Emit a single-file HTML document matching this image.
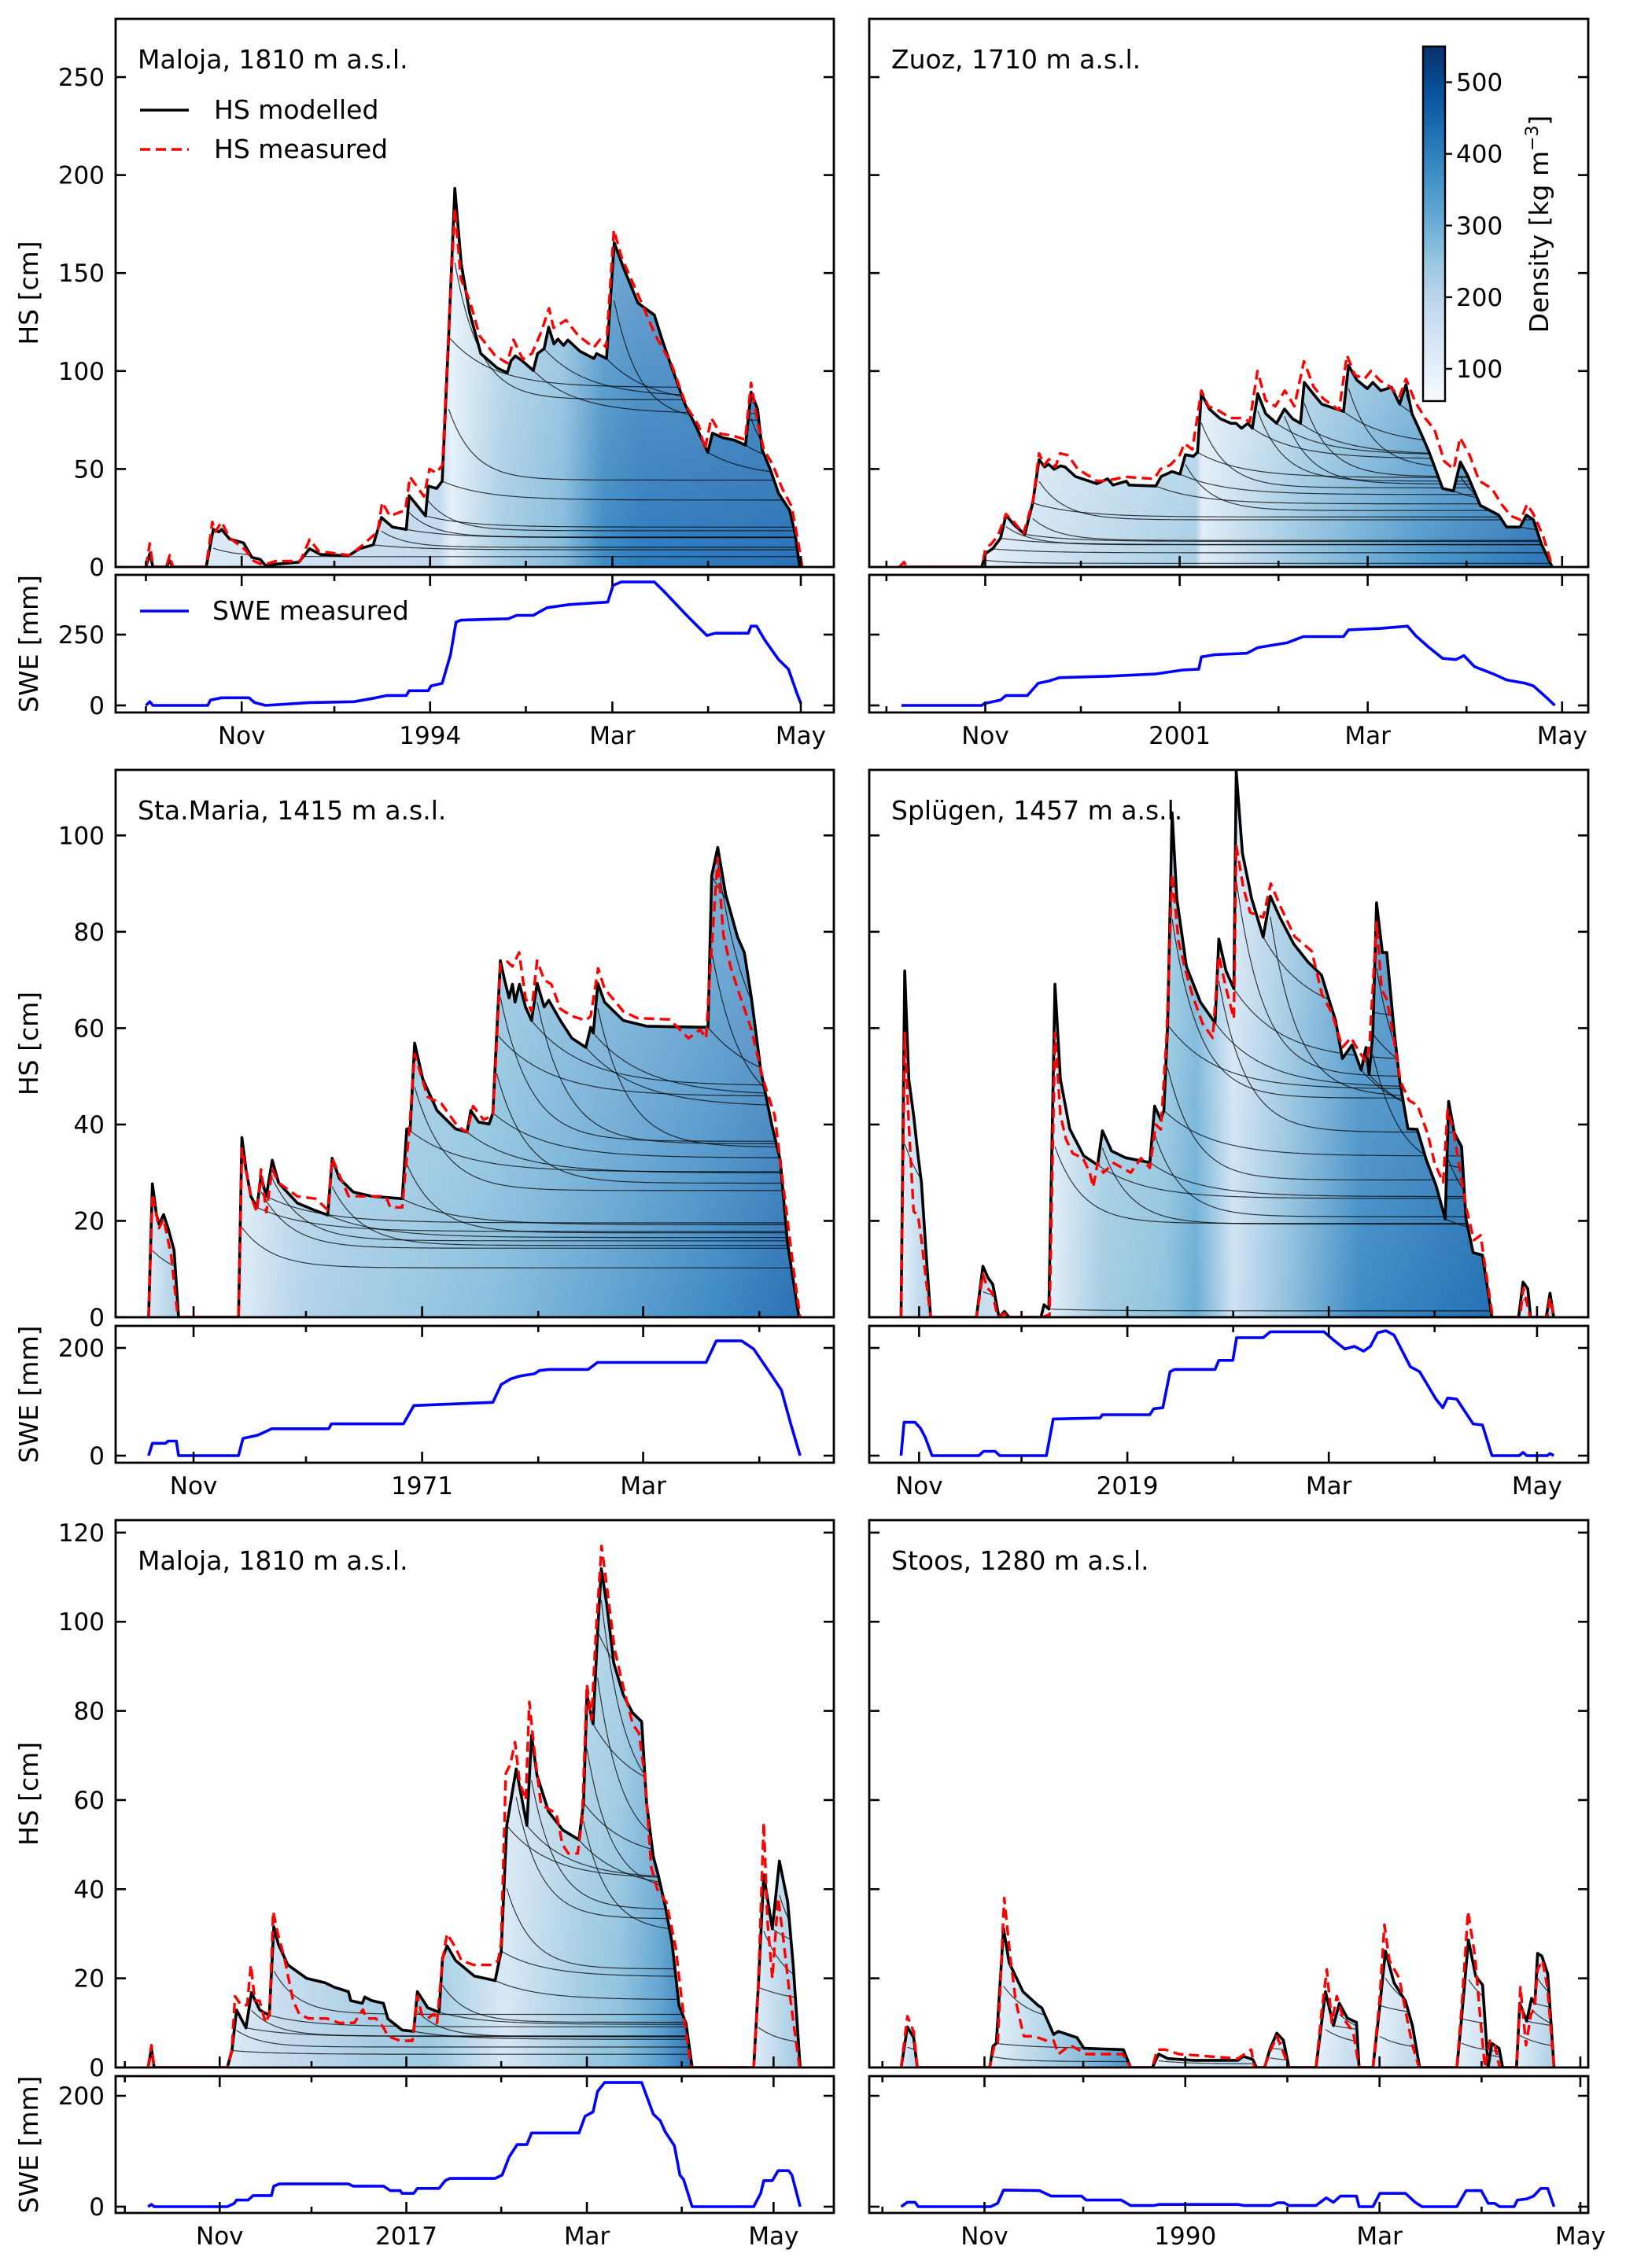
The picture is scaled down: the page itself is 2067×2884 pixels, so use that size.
<!DOCTYPE html>
<html><head><meta charset="utf-8">
<style>
html,body{margin:0;padding:0;background:#fff;}
svg{display:block;font-family:"DejaVu Sans","Liberation Sans",sans-serif;}
</style></head>
<body>
<svg id="fig" xmlns="http://www.w3.org/2000/svg" width="2067" height="2884" viewBox="0 0 2067 2884">
<defs id="defs"></defs>
</svg>
<script>
// ---------------- DATA (day 0 = 1 Oct; HS in cm; SWE in mm) ----------------
const monthTickDays = [0,31,61,92,123,151,182,212,243];
const monthTickMajor = [false,true,false,true,false,true,false,true,false];

const p1Labels = ["Nov","1994","Mar","May"];
const p1HsModelled = [[0,0],[1.25,6.9],[2.3,0],[6.6,0],[7.7,3.2],[8.75,0],[19.5,0],[21.8,19.2],[23.6,17.9],[24.5,19.2],[27.1,14.3],[31.6,12.3],[34.3,4.9],[37,3.9],[38.75,0.7],[42.3,1.5],[49.5,2.5],[53,9.3],[56.6,6.4],[65.5,5.7],[69.1,9.3],[73.6,11.3],[76.25,25.3],[79.8,20.4],[84.3,19.2],[85.2,36.4],[90.5,26.1],[91.4,41.3],[94.1,40.1],[95.9,43.8],[98,117.5],[100,193.2],[102.1,154.4],[104.8,129.8],[108.4,108.9],[113.75,101.5],[117,99.1],[118.2,105.2],[119.6,107.7],[121.8,105.2],[125.4,100.3],[126.8,108.9],[128.9,111.4],[130.4,122.4],[132.1,113.8],[133.4,116.3],[135.2,113.1],[136.6,115.8],[140.5,110.1],[145,106.4],[145.9,108.9],[149.1,106.4],[151.6,165.4],[154.8,151.9],[159.3,134.7],[164.6,128.6],[167.3,115],[170,102.8],[174.5,83.1],[178,72],[181.9,58.5],[183.4,68.3],[186.9,65.9],[190.5,64.7],[194.1,62.2],[195.9,89.2],[198,80.6],[199.5,59.7],[202.1,49.9],[204.8,37.6],[208.4,29],[210.2,16.7],[211.6,0.7],[212.3,0]];
const p1HsMeasured = [[0,0],[1.25,12],[2.3,0],[6.6,0],[7.7,6],[8.75,0],[19.5,0],[21.5,23],[22.5,18],[24.5,23],[27,15],[32,9],[35,3],[38,1],[42,3],[50,3],[53,14],[56,8],[66,6],[70,11],[75,18],[76.5,33],[79,26],[84,29],[85.5,46],[90,36],[91.8,50],[94,48],[96,52],[98,120],[100,183],[102,147],[105,135],[108,118],[113,108],[117,104],[119,116],[122,106],[125,109],[128,120],[130.5,132],[132,122],[134,124],[136,126],[140,118],[145,112],[147,116],[149,112],[151.5,172],[154,158],[159,140],[165,118],[170,104],[175,82],[179,72],[181,60],[183,76],[186,68],[190,67],[194,65],[195.9,94],[198,74],[200,60],[203,52],[206,40],[209,31],[211,14],[212.5,0]];
const p1Swe = [[0,0],[1.25,13],[2.3,0],[20,0],[20.9,19],[24.5,27],[33.4,27],[35.2,10],[38.75,0],[53,10],[67.3,13],[74.5,27],[78,35],[84.3,35],[85.2,52],[91.4,52],[92.3,69],[95.9,78],[98.6,179],[100.4,294],[102,301],[117.3,306],[120,318],[125.4,318],[129.8,345],[137,356],[149.5,365],[151.25,424],[153.9,436],[164.6,436],[167.3,407],[175.4,314],[181.6,247],[184.3,255],[195,255],[195.9,280],[197.7,280],[200.4,230],[204.8,162],[208,128],[210.7,44],[212,7]];

const p2Labels = ["Nov","2001","Mar","May"];
const p2HsModelled = [[4.7,0],[29.9,0],[31.1,6.9],[33.3,9.3],[35.8,14.7],[37.5,26.5],[40,21.6],[43.4,16.7],[45.9,32.7],[47.9,54.8],[49.6,51.1],[50.9,52.4],[52.6,49.9],[54.6,51.6],[56,51.1],[59.3,46.2],[66,42.5],[69.4,45],[71.1,41.8],[75.3,43.8],[76.1,41.8],[84.5,41.3],[86.2,46.2],[89.6,48.7],[92.1,47.4],[93.8,57.3],[96.3,56.5],[97.6,58.5],[98.8,88.5],[101.3,80.6],[104.7,75.7],[108.1,73.3],[109.7,73.3],[111.4,70.8],[113.4,73.3],[114.8,70.8],[116.5,88.5],[119,78.2],[122.4,73.3],[124.9,80.6],[127.4,75.7],[129.9,73.3],[131.1,94.2],[134.1,88],[136.6,83.1],[143.4,79.4],[145,102.8],[147.6,95.4],[150.9,91],[152.6,94.2],[155.1,90],[158.5,91.7],[161,83.1],[163,93],[164.9,78.2],[167.7,68.3],[170.3,58.5],[174.5,40.1],[177.9,38.8],[180.1,53.6],[182.5,46.2],[186.3,31.5],[192.1,26.5],[194.6,20.4],[198.8,20.4],[200.8,26.5],[203,24.1],[205.5,11.8],[208.9,0]];
const p2HsMeasured = [[4,0],[5.5,2.5],[6.5,0],[30,0],[31,9],[33,12],[35,16],[37.5,27],[40,23],[43,17],[46,34],[47.9,58],[49.5,52],[51,55],[53,51],[54.5,58],[57,57],[60,50],[66,44],[69,44],[75,46],[84,45],[86,50],[89,52],[92,57],[93.5,63],[96,60],[98.8,90],[101,82],[104,80],[108,76],[112,76],[114,74],[116.4,100],[119,85],[122,82],[125,90],[128,82],[131,105],[134,92],[137,86],[142,80],[144.5,108],[147,98],[150,96],[152,100],[155,95],[158,92],[161,87],[163,96],[166,84],[169,76],[172,70],[175,54],[178,50],[180,66],[183,57],[186,44],[190,40],[193,32],[196,26],[199,24],[201,32],[203,27],[206,16],[209,0]];
const p2Swe = [[4.7,0],[29.9,0],[30.8,7],[35.8,19],[37.5,35],[44.2,35],[47.6,78],[50.9,86],[54.3,98],[69.4,103],[84.5,111],[92.9,125],[98,128],[98.8,171],[103,179],[113.1,184],[116.5,204],[125.7,221],[130.8,243],[143.4,243],[145,267],[155.1,272],[160.2,277],[163.5,280],[166,247],[170.3,204],[174.5,166],[178.7,162],[181.2,176],[184.5,137],[190.4,111],[194.6,90],[200.5,78],[203,69],[207.2,27],[209.7,0]];

const p3Labels = ["Nov","1971","Mar"];
const p3HsModelled = [[19,0],[20,27.7],[21.1,21.3],[21.8,19.3],[23,21.3],[24.2,18.5],[25.8,13.9],[27,0],[43,0],[43.9,37.3],[45,30.7],[46.3,25.1],[47.9,22.8],[49,29.3],[50.4,25.1],[52,32.6],[53.7,27.9],[58.7,23.7],[63,22.3],[66.8,21.2],[68,33],[69.9,28.8],[73.6,26],[78.6,25.1],[86.7,24.6],[87.9,39.1],[88.8,38.7],[90,56.9],[92.2,49.4],[96,42.9],[100.9,39.1],[104,38.4],[105,42.9],[107.1,40.5],[109.9,40.1],[110.9,42.4],[111.9,58.8],[112.9,74],[114,70],[115.2,66.3],[116.1,69.1],[116.8,65.4],[118,69.1],[119.6,64.4],[121.2,61.6],[122.7,69.3],[124.6,64.4],[125.8,65.8],[128.9,61.6],[132,57.9],[135.7,56],[137,60.2],[137.7,59],[138.9,69.3],[140.7,65.4],[145.7,61.6],[151.9,60.4],[166.8,60.2],[168.3,60.2],[169.3,91.6],[170.9,97.5],[173,87.8],[176.2,78.9],[178,75.7],[179.9,66.3],[182.4,51.3],[185.3,40.1],[187.6,32.6],[189.5,15.7],[191.7,4.5],[192.6,0]];
const p3HsMeasured = [[19,0],[20,25.6],[21.8,18.5],[23,20.4],[25,12.9],[26.8,0],[43,0],[43.9,35],[46.3,25.1],[47.9,21.8],[49,30.7],[50.4,21.8],[52,30.7],[53.7,27.9],[58.7,25.1],[63.6,24.6],[66.8,22.3],[68,33],[72.4,25.1],[82.3,25.1],[83.5,22.8],[86.7,22.8],[88.6,39.1],[90,54.6],[93.5,45.7],[97.2,44.3],[101.5,39.6],[104,38.4],[105.6,43.8],[108.4,41],[110.9,41.9],[111.9,56.9],[112.9,73.3],[114.7,73.8],[116.1,72.8],[117.9,75.7],[119.6,66.3],[121.2,63.5],[122.7,74],[124.6,70],[126.5,69.1],[128.9,64],[132,62.5],[135.7,61.6],[137,62.5],[139,72.4],[140.7,68.2],[145.7,63.5],[149.4,62.1],[158.1,61.8],[163.1,57.9],[166.2,59.7],[167.8,57.9],[168.7,70],[170.9,95.3],[172.4,79.4],[174.3,72.8],[176.2,68.2],[179.9,59.7],[183,49.4],[186.1,41.9],[188.6,26],[191.1,10.1],[192.9,0]];
const p3Swe = [[19,0],[20,23],[23.5,23],[24.2,27],[26.4,27],[27,0],[43,0],[44.2,32],[48.1,38],[49.4,42],[51.9,50],[67.1,50],[67.8,59],[87,59],[89.8,93],[104,97],[110.9,99],[113.1,132],[115.8,143],[118.3,148],[122,152],[123.3,158],[125.8,160],[136.3,160],[138.8,173],[167.8,173],[170.5,213],[177.3,213],[180.5,198],[185.4,148],[187.9,122],[190.4,59],[192.9,0]];

const p4Labels = ["Nov","2019","Mar","May"];
const p4HsModelled = [[25.7,0],[26.8,71.9],[28,49.4],[29.4,41.9],[30.7,33.5],[31.7,27.9],[33,13.9],[34.4,0],[47.8,0],[49.7,10.6],[51.2,8.2],[52.6,6.8],[54.4,0],[56,1.2],[57.4,0],[66.7,0],[67.6,2.6],[69,1.7],[70.8,69.1],[72.4,49.4],[75.1,39.1],[79.2,33.5],[83.3,31.6],[84.7,38.7],[87.4,34.5],[91.5,33.1],[98.6,32.1],[100,43.8],[101.8,41],[102.7,42.9],[103.8,60.7],[105.1,104.7],[106.5,86.9],[109.3,72.8],[113.4,65.4],[117.7,61.1],[118.8,78.5],[120.9,71.9],[123.2,68.2],[123.9,113.3],[125.7,96.3],[128.4,86.9],[131.8,78.9],[133.9,87.4],[136.6,83.1],[140.7,77.5],[144.8,73.8],[148.9,71],[150.9,66.3],[153,61.6],[155,53.7],[157.8,56.5],[160.5,51.3],[161.9,56],[162.8,50.4],[163.9,58.8],[165,86],[166.7,75.7],[168,75.7],[170.1,59.7],[171.8,49],[174.2,39.1],[176.9,39],[179.6,32.6],[182.4,27.4],[185.1,20.4],[186.1,44.8],[187.8,38.2],[189.9,35.4],[191.2,20.4],[193.3,13.4],[196,12.9],[198.8,0],[206.6,0],[207.9,7.3],[209.3,5.9],[210.1,0],[214.7,0],[215.8,5],[216.9,0]];
const p4HsMeasured = [[25.7,0],[26.8,59],[28,40],[29.4,22],[30.7,21],[31.7,16],[33,8],[34.4,0],[47.8,0],[49.7,9],[51,6],[52.5,5],[54,0],[56,0.8],[57,0],[66.7,0],[69.2,0.5],[70.8,59],[72.4,42],[74,37],[76,34],[79,33],[81,30],[82,27],[83.3,32],[85,30],[88,32],[90.5,31],[93,30],[96,33],[98.6,31],[100.3,40],[101.8,39],[103.5,58],[105.1,92],[107,78],[109,72],[111,67],[114,61],[117,58],[118.8,75],[121,68],[123.2,62],[123.9,98],[126,89],[128,84],[131.8,83],[134,90],[137,85],[141,79],[146,76],[149,67],[152,63],[155,56],[157.5,58],[160,55],[162,53],[163,57],[165,82],[166.5,68],[168,66],[170,58],[172,49],[174.5,45],[177,44],[180,38],[182,32],[184.5,28],[185.8,43],[187.5,39],[189.5,30],[191.5,22],[193.5,16],[195.5,17],[196.5,12],[199,0],[207,0],[208,6],[209,3],[210,0],[215,0],[215.8,4],[217,0]];
const p4Swe = [[25.7,0],[26.6,62],[29.8,62],[31.4,51],[32.8,34],[34.8,0],[48.5,0],[49.9,8],[53.3,8],[54.6,0],[68.3,0],[70.3,68],[84,70],[84.7,76],[98.6,76],[99.7,87],[102.4,89],[104.5,156],[105.9,160],[117.7,160],[118.8,177],[122.9,177],[124,219],[131.8,219],[133.9,230],[149.6,230],[152.3,215],[155.7,198],[158.5,203],[161.2,194],[163.2,203],[165.3,228],[167.7,232],[170.1,224],[174.9,165],[177.6,156],[182.4,105],[184.4,89],[185.8,107],[188.5,105],[193.3,59],[196,57],[198.8,0],[206.8,0],[207.9,6],[209,0],[215,0],[215.8,4],[216.9,0]];

const p5Labels = ["Nov","2017","Mar","May"];
const p5HsModelled = [[7.6,0],[8.7,4.3],[9.6,0],[33.5,0],[35,3.8],[36.5,12.9],[39.6,8.9],[41.4,16.8],[44.1,12.9],[47.2,11.7],[48.7,31.6],[50.2,27.6],[53.3,23],[59.4,20],[65.4,19],[68.5,18],[73.1,17],[73.8,15],[77.6,14.4],[78.4,15.8],[80.7,15],[84.5,14.4],[86,10.9],[90.6,8.4],[94.4,8.1],[95.6,17],[99,13.4],[102.7,12.4],[103.8,24.5],[105.3,27.3],[108.1,24],[114.2,20.5],[121,19.5],[123,26.1],[124.8,54.3],[127.9,67],[131.4,54.3],[132.9,74.5],[134.7,65.5],[138.5,57.4],[143.1,53.3],[148.4,51.1],[149.9,59.4],[151,83.6],[153,77.1],[154.5,97.8],[155.7,111.9],[157.5,103.8],[159.8,90.7],[162.9,83.6],[165.9,79.6],[168.9,77.6],[170.5,59.4],[172.7,47.3],[174.3,43.2],[176.6,36.2],[178.8,28.1],[181.1,13.9],[183.4,9.9],[185.4,0],[205.5,0],[207,18],[208.8,43.2],[211.6,31.1],[213.9,46.3],[216.6,37.2],[218.4,23],[220.7,0]];
const p5HsMeasured = [[7.6,0],[8.7,5],[9.6,0],[33.5,0],[35,4],[36,16],[38,14],[40,14],[41.2,23],[42.5,15],[44,15],[46,10],[47.3,12],[48.5,35],[50,30],[52,25],[55,15],[57,12],[60,11],[66,11],[70,10],[75,10],[77.8,13],[79,11],[82,11],[84.5,9],[86,7],[90,6],[94,6],[95.6,16],[97,12],[99,11],[101,12],[102,10],[103.8,24],[105.3,30],[108,27],[110,24],[114,23],[120,23],[122,24],[123,28],[124.5,66],[126,68],[127.5,73],[129,64],[131,60],[132.2,82],[134,70],[136,59],[138.5,58],[141,57],[143,50],[145,48],[148,48],[149.5,56],[151,86],[152.5,78],[154,98],[155.8,117],[157.5,108],[160,94],[163,85],[166,77],[168,75],[170,65],[172,45],[174,40],[177,37],[180,27],[182,15],[185,0],[205.5,0],[207,18],[208.8,55],[210,33],[211.6,20],[213.5,38],[215,30],[217,18],[218.5,10],[220.5,0]];
const p5Swe = [[7.6,0],[8.7,4],[9.6,0],[33.5,0],[35.8,6],[36.5,12],[40.3,12],[41.9,20],[47.9,20],[48.7,37],[50.5,41],[73.1,41],[74.6,37],[84.5,37],[86.8,29],[90,29],[90.6,24],[94.4,24],[95.6,33],[102.7,33],[104.7,47],[106.2,51],[121,51],[123.3,57],[125.6,90],[128.2,112],[131.4,112],[132.9,133],[148.4,133],[150.4,163],[153,171],[154.5,208],[156.8,224],[168.9,224],[170.5,200],[172.7,167],[175,155],[176.6,135],[179.6,110],[181.4,57],[182.6,49],[185.4,0],[205.5,0],[207.8,24],[208.8,47],[211.6,47],[213.5,65],[216.9,65],[218,57],[220.7,0]];

const p6Labels = ["Nov","1990","Mar","May"];
const p6HsModelled = [[5.7,0],[7.6,9.1],[9.5,6.7],[10.6,0],[32.6,0],[33.6,4.8],[34.6,5.4],[36.8,31.1],[38.5,23.5],[42.7,17],[47.3,13.9],[48.4,13.4],[49.9,10.9],[52,7.4],[53.4,8.1],[59.1,6.7],[61.2,4.3],[73.2,4],[75.4,0],[82,0],[83.9,3],[86.7,2],[94.5,1.6],[108,1.6],[109.6,2.5],[112.5,1.8],[113.6,0],[116.1,0],[117.8,4.3],[119.8,7.7],[121.8,6.1],[123.5,0],[131.7,0],[134.6,17],[137,9.4],[138.8,14.4],[141.2,11.1],[144,10.1],[144.8,0],[149,0],[151.1,13.9],[152.8,26.1],[155.4,19],[158.9,14.9],[161,9.4],[163.2,0],[174.5,0],[175.9,10.9],[178,28.6],[180.2,20.5],[182.3,18.5],[184,0],[185.1,5.4],[187.3,4.3],[188.4,0],[192.6,0],[193.6,14.4],[195.7,10.4],[197.2,15.5],[198.2,14.4],[199,25.6],[200.3,25],[202.1,21],[204,0]];
const p6HsMeasured = [[5.7,0],[7.6,11.5],[9.5,8],[10.6,0],[32.6,0],[34,5],[35,5],[37,38],[38.8,25],[40.5,15],[42,10],[43,7],[46,7],[50,6],[52,6],[53.5,3],[57,5],[62,3],[73,3],[75.4,0],[82,0],[83.5,4],[86,4],[90,3],[108,2],[110,3],[112,4],[113,0],[116,0],[118,4],[119.8,7],[122,3],[123.5,0],[131.7,0],[133.5,13],[135,22],[136.5,10],[138,16],[140,11],[143,8],[144.8,0],[149,0],[151,15],[152.5,32],[154,24],[157,20],[159.6,10],[161,5],[163,0],[174.5,0],[176,14],[177.9,35],[180,25],[181.5,12],[183,0],[184.5,6],[186,5],[187.5,0],[192.6,0],[193.8,18],[195.5,5],[197,12],[198,13],[199,22],[200.5,24],[202,18],[204,0]];
const p6Swe = [[5.7,0],[7.6,8],[9.9,8],[10.9,0],[32.9,0],[35,6],[36.8,30],[47.7,29],[51.3,19],[60.5,19],[61.9,12],[72.5,12],[75.4,2],[82.4,2],[83.9,4],[108,4],[110,2],[118,2],[120,7],[122,7],[123.5,2],[131.7,2],[134.8,16],[137,8],[139.1,19],[144,19],[144.8,0],[149,0],[151.1,24],[158.9,24],[161.8,8],[163.9,0],[174.5,0],[177.3,29],[181.9,29],[184,6],[186,6],[187.5,0],[191.9,0],[192.9,12],[195.7,14],[197.8,19],[200,33],[202.1,33],[204,0]];

const colorbarTicks = [100,200,300,400,500];

// ---------------- LAYOUT ----------------
const NS = 'http://www.w3.org/2000/svg';
const svg = document.getElementById('fig');
const defs = document.getElementById('defs');
const FONT = 31;
const TFONT = 33;

function mk(tag, attrs, parent) {
  const e = document.createElementNS(NS, tag);
  for (const k in attrs) e.setAttribute(k, attrs[k]);
  (parent || svg).appendChild(e);
  return e;
}

const colL = [147, 1060], colR = [1105, 2019];
const rows = [
  {hs:[24,721], swe:[731,906], hsDom:[0,279.7], sweDom:[-25,461], hsTicks:[0,50,100,150,200,250], sweTicks:[0,250]},
  {hs:[979,1675], swe:[1686,1860], hsDom:[0,113.6], sweDom:[-13.1,240.9], hsTicks:[0,20,40,60,80,100], sweTicks:[0,200]},
  {hs:[1933,2629], swe:[2640,2814], hsDom:[0,122.8], sweDom:[-11.3,235.5], hsTicks:[0,20,40,60,80,100,120], sweTicks:[0,200]}
];

const panels = [
  {id:'p1', col:colL, row:0, xDom:[-9.8,222.7], title:'Maloja, 1810 m a.s.l.', labels:p1Labels, mod:p1HsModelled, meas:p1HsMeasured, swe:p1Swe, left:true,
   stops:[[0,'#e4eff9'],[95,'#c2d9ee'],[99,'#e4eff9'],[115,'#a9cfe5'],[135,'#86bbdc'],[148,'#3d8bc4'],[160,'#2f7cbd'],[212,'#2a72b5']]},
  {id:'p2', col:colR, row:0, xDom:[-5.4,220.2], title:'Zuoz, 1710 m a.s.l.', labels:p2Labels, mod:p2HsModelled, meas:p2HsMeasured, swe:p2Swe, left:false,
   stops:[[30,'#e6f0fa'],[45,'#d4e5f3'],[97,'#a8cee5'],[99,'#e0ecf7'],[130,'#9ac7e1'],[170,'#4b96ca'],[209,'#2b73b5']]},
  {id:'p3', col:colL, row:1, xDom:[10.2,201.9], title:'Sta.Maria, 1415 m a.s.l.', labels:p3Labels, mod:p3HsModelled, meas:p3HsMeasured, swe:p3Swe, left:true,
   stops:[[19,'#dbe9f6'],[27,'#a9cde4'],[43,'#e0ecf7'],[60,'#b3d4e9'],[110,'#8ac0de'],[170,'#3f8bc5'],[193,'#2a70b3']]},
  {id:'p4', col:colR, row:1, xDom:[16.4,227], title:'Splügen, 1457 m a.s.l.', labels:p4Labels, mod:p4HsModelled, meas:p4HsMeasured, swe:p4Swe, left:false,
   stops:[[25,'#e5eff9'],[34,'#b0d1e8'],[69,'#e5eff9'],[85,'#a4cde3'],[103,'#90c3de'],[112,'#6aaed5'],[123,'#cfe2f3'],[140,'#8dbfdd'],[160,'#3e8cc5'],[199,'#2470b3'],[206,'#e3eef8'],[217,'#a9cde4']]},
  {id:'p5', col:colL, row:2, xDom:[-3,231.7], title:'Maloja, 1810 m a.s.l.', labels:p5Labels, mod:p5HsModelled, meas:p5HsMeasured, swe:p5Swe, left:true,
   stops:[[33,'#deebf7'],[50,'#c9dcef'],[80,'#a8cde4'],[100,'#9ccae1'],[124,'#d8e7f5'],[150,'#9fcae2'],[162,'#8bc0dd'],[175,'#5aa0cf'],[185,'#2c74b5'],[205,'#e3eef8'],[221,'#9ec8e2']]},
  {id:'p6', col:colR, row:2, xDom:[-4,214.4], title:'Stoos, 1280 m a.s.l.', labels:p6Labels, mod:p6HsModelled, meas:p6HsMeasured, swe:p6Swe, left:false,
   stops:[[5,'#e5eff9'],[10,'#bad6ea'],[33,'#e5eff9'],[60,'#8cbfdd'],[75,'#4a95c8'],[82,'#e8f1fa'],[110,'#c0d8ec'],[116,'#e8f1fa'],[124,'#cde0f1'],[131,'#e8f1fa'],[145,'#bfd8ec'],[149,'#e8f1fa'],[163,'#b8d4e9'],[174,'#e8f1fa'],[188,'#bcd6eb'],[192,'#e8f1fa'],[204,'#a9cde4']]}
];

function lin(d0,d1,r0,r1){ return v => r0 + (v-d0)/(d1-d0)*(r1-r0); }
function interp(series, t){
  if (t <= series[0][0]) return series[0][1];
  for (let i=1;i<series.length;i++){
    if (t <= series[i][0]){
      const a=series[i-1], b=series[i];
      return a[1] + (b[1]-a[1])*(t-a[0])/((b[0]-a[0])||1);
    }
  }
  return series[series.length-1][1];
}
function pathOf(series, fx, fy){
  return series.map((p,i)=>(i?'L':'M')+fx(p[0]).toFixed(1)+','+fy(p[1]).toFixed(1)).join(' ');
}

// ---------------- DRAW PANELS ----------------
panels.forEach((P, pi) => {
  const R = rows[P.row];
  const x0 = P.col[0], x1 = P.col[1];
  const fx = lin(P.xDom[0], P.xDom[1], x0, x1);
  const fy = lin(R.hsDom[0], R.hsDom[1], R.hs[1], R.hs[0]);
  const fs = lin(R.sweDom[0], R.sweDom[1], R.swe[1], R.swe[0]);

  const g = mk('g', {});
  
  

  const cp = mk('clipPath', {id: P.id+'-clip'}, defs);
  mk('rect', {x:x0, y:R.hs[0], width:x1-x0, height:R.hs[1]-R.hs[0]}, cp);
  const cps = mk('clipPath', {id: P.id+'-clipswe'}, defs);
  mk('rect', {x:x0, y:R.swe[0], width:x1-x0, height:R.swe[1]-R.swe[0]}, cps);

  const first = P.mod[0][0], last = P.mod[P.mod.length-1][0];
  const grad = mk('linearGradient', {id: P.id+'-grad', gradientUnits:'userSpaceOnUse', x1:fx(first), y1:0, x2:fx(last), y2:0}, defs);
  P.stops.forEach(s => {
    const off = Math.max(0, Math.min(1, (s[0]-first)/(last-first)));
    mk('stop', {offset:off.toFixed(4), 'stop-color':s[1]}, grad);
  });
  const maxHs = Math.max(...P.mod.map(p=>p[1]));
  const vg = mk('linearGradient', {id: P.id+'-vgrad', gradientUnits:'userSpaceOnUse', x1:0, y1:fy(0), x2:0, y2:fy(maxHs)}, defs);
  mk('stop', {offset:'0', 'stop-color':'#ffffff', 'stop-opacity':'0'}, vg);
  mk('stop', {offset:'1', 'stop-color':'#ffffff', 'stop-opacity':'0.35'}, vg);

  const areaD = pathOf(P.mod, fx, fy) + ' L' + fx(last).toFixed(1) + ',' + fy(0).toFixed(1) + ' L' + fx(first).toFixed(1) + ',' + fy(0).toFixed(1) + ' Z';
  const hsG = mk('g', {'clip-path':'url(#'+P.id+'-clip)'}, g);
  const area = mk('path', {d:areaD, fill:'url(#'+P.id+'-grad)', stroke:'none'}, hsG);
  
  
  const areaOv = mk('path', {d:areaD, fill:'url(#'+P.id+'-vgrad)', stroke:'none'}, hsG);
  
  

  const thr = maxHs * 0.04;
  const layers = [];
  for (let i=1;i<P.mod.length;i++){
    const prev = P.mod[i-1], cur = P.mod[i];
    if (cur[1] - prev[1] > thr && prev[1] > 0.5) layers.push({t0:prev[0], h0:prev[1], k:0.22, tau:14});
    if (cur[1] - prev[1] > thr*1.5) {
      const mid = prev[1] + 0.5*(cur[1]-prev[1]);
      layers.push({t0:cur[0], h0:mid, k:0.45, tau:8});
    }
  }
  const layerG = mk('g', {}, hsG);
  
  
  layers.forEach(L => {
    const pts = [];
    for (let t=L.t0; t<=last; t+=0.5){
      const hs = interp(P.mod, t);
      if (hs < 0.3 && t > L.t0+1) break;
      const h = Math.min(hs, L.h0*((1-L.k) + L.k*Math.exp(-(t-L.t0)/L.tau)));
      pts.push([t,h]);
    }
    if (pts.length > 1) {
      const ln = mk('path', {d:pathOf(pts, fx, fy), fill:'none', stroke:'#000', 'stroke-width':1.2, 'stroke-opacity':0.75}, layerG);
      
      
    }
  });

  const modLine = mk('path', {d:pathOf(P.mod, fx, fy), fill:'none', stroke:'#000', 'stroke-width':3.6, 'stroke-linejoin':'round'}, hsG);
  
  
  const measLine = mk('path', {d:pathOf(P.meas, fx, fy), fill:'none', stroke:'#ff0000', 'stroke-width':3.4, 'stroke-dasharray':'13,7', 'stroke-linejoin':'round'}, hsG);
  
  

  const sweG = mk('g', {'clip-path':'url(#'+P.id+'-clipswe)'}, g);
  const sweLine = mk('path', {d:pathOf(P.swe, fx, fs), fill:'none', stroke:'#0000ff', 'stroke-width':3.6, 'stroke-linejoin':'round'}, sweG);
  
  

  const fr1 = mk('rect', {x:x0, y:R.hs[0], width:x1-x0, height:R.hs[1]-R.hs[0], fill:'none', stroke:'#000', 'stroke-width':2.8}, g);
  
  
  const fr2 = mk('rect', {x:x0, y:R.swe[0], width:x1-x0, height:R.swe[1]-R.swe[0], fill:'none', stroke:'#000', 'stroke-width':2.8}, g);
  
  

  const tickG = mk('g', {stroke:'#000', 'stroke-width':2.6}, g);
  
  
  R.hsTicks.forEach(v => {
    const y = fy(v);
    mk('line', {x1:x0, x2:x0+13, y1:y, y2:y}, tickG);
    mk('line', {x1:x1, x2:x1-13, y1:y, y2:y}, tickG);
    if (P.left) {
      const t = mk('text', {x:133, y:y+11, 'font-size':FONT, 'text-anchor':'end', fill:'#000', stroke:'none'}, g);
      t.textContent = v;
      
      
    }
  });
  R.sweTicks.forEach(v => {
    const y = fs(v);
    mk('line', {x1:x0, x2:x0+13, y1:y, y2:y}, tickG);
    mk('line', {x1:x1, x2:x1-13, y1:y, y2:y}, tickG);
    if (P.left) {
      const t = mk('text', {x:133, y:y+11, 'font-size':FONT, 'text-anchor':'end', fill:'#000', stroke:'none'}, g);
      t.textContent = v;
      
      
    }
  });
  let li = 0;
  monthTickDays.forEach((d, i) => {
    if (d < P.xDom[0] || d > P.xDom[1]) return;
    const x = fx(d);
    const len = monthTickMajor[i] ? 14 : 8;
    mk('line', {x1:x, x2:x, y1:R.hs[1], y2:R.hs[1]-len}, tickG);
    mk('line', {x1:x, x2:x, y1:R.swe[0], y2:R.swe[0]+len}, tickG);
    mk('line', {x1:x, x2:x, y1:R.swe[1], y2:R.swe[1]-len}, tickG);
    if (monthTickMajor[i] && li < P.labels.length) {
      const t = mk('text', {x:x, y:R.swe[1]+40, 'font-size':FONT, 'text-anchor':'middle', fill:'#000', stroke:'none'}, g);
      t.textContent = P.labels[li++];
      
      
    }
  });

  const tt = mk('text', {x:x0+28, y:R.hs[0]+63, 'font-size':TFONT, fill:'#000'}, g);
  tt.textContent = P.title;
  
  

  if (P.left) {
    const cy = (R.hs[0]+R.hs[1])/2;
    const yt = mk('text', {x:0, y:0, 'font-size':TFONT, 'text-anchor':'middle', transform:'translate(48,'+cy+') rotate(-90)', fill:'#000'}, g);
    yt.textContent = 'HS [cm]';
    
    
    const cs = (R.swe[0]+R.swe[1])/2;
    const st = mk('text', {x:0, y:0, 'font-size':TFONT, 'text-anchor':'middle', transform:'translate(48,'+cs+') rotate(-90)', fill:'#000'}, g);
    st.textContent = 'SWE [mm]';
    
    
  }
});

// ---------------- LEGEND (panel 1) ----------------
const lg = mk('g', {});


const l1 = mk('line', {x1:178, x2:240, y1:140, y2:140, stroke:'#000', 'stroke-width':3.6}, lg);


const lt1 = mk('text', {x:272, y:151, 'font-size':TFONT}, lg);
lt1.textContent = 'HS modelled';


const l2 = mk('line', {x1:178, x2:240, y1:190, y2:190, stroke:'#ff0000', 'stroke-width':3.4, 'stroke-dasharray':'13,7'}, lg);


const lt2 = mk('text', {x:272, y:201, 'font-size':TFONT}, lg);
lt2.textContent = 'HS measured';


const l3 = mk('line', {x1:178, x2:240, y1:777, y2:777, stroke:'#0000ff', 'stroke-width':3.6}, lg);


const lt3 = mk('text', {x:270, y:788, 'font-size':TFONT}, lg);
lt3.textContent = 'SWE measured';



// ---------------- COLORBAR ----------------
const cbX = 1809, cbW = 28, cbTop = 59, cbBot = 510, cbMin = 55, cbMax = 550;
const cbScale = lin(cbMin, cbMax, cbBot, cbTop);
const cbg = mk('linearGradient', {id:'cbgrad', x1:0, y1:1, x2:0, y2:0}, defs);
[['0','#f7fbff'],['0.125','#deebf7'],['0.25','#c6dbef'],['0.375','#9ecae1'],['0.5','#6baed6'],['0.625','#4292c6'],['0.75','#2171b5'],['0.875','#08519c'],['1','#08306b']].forEach(s => mk('stop', {offset:s[0], 'stop-color':s[1]}, cbg));
const cb = mk('g', {});


const cbr = mk('rect', {x:cbX, y:cbTop, width:cbW, height:cbBot-cbTop, fill:'url(#cbgrad)', stroke:'#000', 'stroke-width':2.4}, cb);


colorbarTicks.forEach(v => {
  const y = cbScale(v);
  mk('line', {x1:cbX+cbW, x2:cbX+cbW+9, y1:y, y2:y, stroke:'#000', 'stroke-width':2.4}, cb);
  const t = mk('text', {x:cbX+cbW+14, y:y+11, 'font-size':FONT}, cb);
  t.textContent = v;
  
  
});
const cbt = mk('text', {x:0, y:0, 'font-size':TFONT, 'text-anchor':'middle', transform:'translate(1968,285) rotate(-90)'}, cb);
cbt.textContent = 'Density [kg m';
const sup = mk('tspan', {dy:-13, 'font-size':22}, cbt);
sup.textContent = '−3';
const cl = mk('tspan', {dy:13, 'font-size':TFONT}, cbt);
cl.textContent = ']';


</script>
</body></html>
